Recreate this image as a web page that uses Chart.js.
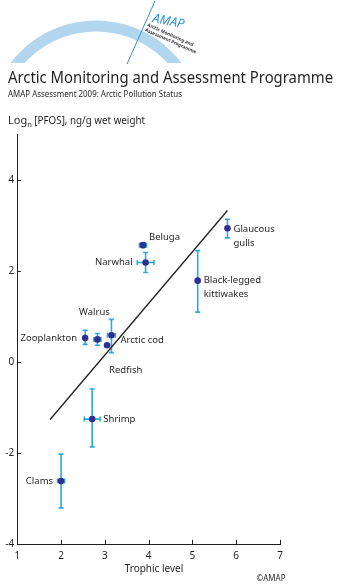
<!DOCTYPE html>
<html>
<head>
<meta charset="utf-8">
<script src="https://cdn.jsdelivr.net/npm/chart.js@4"></script>
<style>
  body { margin: 0; background: #fff; }
  #wrap { width: 343px; height: 584px; }
</style>
</head>
<body>
<div id="wrap"><canvas id="pfosChart" width="343" height="584"></canvas></div>
<script>
// data
var species = ['Clams', 'Shrimp', 'Zooplankton', 'Walrus', 'Redfish', 'Arctic cod', 'Beluga', 'Narwhal', 'Black-legged kittiwakes', 'Glaucous gulls'];
var trophic = [2.0, 2.71, 2.55, 2.83, 3.05, 3.15, 3.87, 3.93, 5.12, 5.8];
var pfos = [-2.61, -1.25, 0.53, 0.5, 0.37, 0.59, 2.57, 2.19, 1.79, 2.94];
var pfosLow = [-3.2, -1.86, 0.39, 0.37, null, 0.21, 2.52, 1.97, 1.1, 2.73];
var pfosHigh = [-2.02, -0.59, 0.70, 0.63, null, 0.94, 2.62, 2.41, 2.45, 3.14];
var trophicErr = [0.08, 0.18, null, 0.08, null, 0.09, 0.08, 0.19, null, null];
var fitX = [1.75, 5.8];
var fitY = [-1.26, 3.33];
var xTicks = [1, 2, 3, 4, 5, 6, 7];
var yTicks = [-4, -2, 0, 2, 4];

var navy = '#2e3192';
var cyan = '#29abe2';
var ink = '#231f20';
var font = '"Noto Sans", sans-serif';

// label placement (px offset from the point)
var labelPos = [
	{dx: -8, dy: 0, align: 'right'},
	{dx: 11, dy: 0, align: 'left'},
	{dx: -8, dy: 0, align: 'right'},
	{dx: -3, dy: -27, align: 'center'},
	{dx: 2, dy: 25, align: 'left'},
	{dx: 9, dy: 5, align: 'left'},
	{dx: 6, dy: -8, align: 'left'},
	{dx: -13, dy: 0, align: 'right'},
	{dx: 6, dy: 0, align: 'left', lines: ['Black-legged', 'kittiwakes']},
	{dx: 6, dy: 1, align: 'left', lines: ['Glaucous', 'gulls']}
];

var points = trophic.map(function(t, i){ return {x: t, y: pfos[i]}; });
var fitLine = fitX.map(function(t, i){ return {x: t, y: fitY[i]}; });

var errorBars = {
	id: 'errorBars',
	beforeDatasetsDraw: function(chart){
		var ctx = chart.ctx;
		var xs = chart.scales.x, ys = chart.scales.y;
		ctx.save();
		ctx.strokeStyle = cyan;
		ctx.lineWidth = 1.6;
		for (var i = 0; i < trophic.length; i++) {
			var px = xs.getPixelForValue(trophic[i]);
			var py = ys.getPixelForValue(pfos[i]);
			ctx.beginPath();
			if (pfosLow[i] != null) {
				var top = ys.getPixelForValue(pfosHigh[i]);
				var bot = ys.getPixelForValue(pfosLow[i]);
				ctx.moveTo(px, top); ctx.lineTo(px, bot);
				ctx.moveTo(px - 2.5, top); ctx.lineTo(px + 2.5, top);
				ctx.moveTo(px - 2.5, bot); ctx.lineTo(px + 2.5, bot);
			}
			if (trophicErr[i] != null) {
				var l = xs.getPixelForValue(trophic[i] - trophicErr[i]);
				var r = xs.getPixelForValue(trophic[i] + trophicErr[i]);
				ctx.moveTo(l, py); ctx.lineTo(r, py);
				ctx.moveTo(l, py - 2.5); ctx.lineTo(l, py + 2.5);
				ctx.moveTo(r, py - 2.5); ctx.lineTo(r, py + 2.5);
			}
			ctx.stroke();
		}
		ctx.restore();
	}
};

var decorations = {
	id: 'decorations',
	afterDraw: function(chart){
		var ctx = chart.ctx;
		var xs = chart.scales.x, ys = chart.scales.y;
		var area = chart.chartArea;
		ctx.save();

		// tick marks (inside the plot)
		ctx.strokeStyle = ink;
		ctx.lineWidth = 1;
		ctx.beginPath();
		yTicks.forEach(function(v){
			var y = Math.round(ys.getPixelForValue(v)) + 0.5;
			ctx.moveTo(area.left, y); ctx.lineTo(area.left + 3.5, y);
		});
		xTicks.forEach(function(v){
			var x = Math.round(xs.getPixelForValue(v)) + 0.5;
			ctx.moveTo(x, area.bottom); ctx.lineTo(x, area.bottom - 4.5);
		});
		ctx.stroke();

		// point labels
		ctx.fillStyle = ink;
		ctx.font = '9.5px ' + font;
		ctx.textBaseline = 'middle';
		for (var i = 0; i < species.length; i++) {
			var p = labelPos[i];
			var px = xs.getPixelForValue(trophic[i]) + p.dx;
			var py = ys.getPixelForValue(pfos[i]) + p.dy;
			ctx.textAlign = p.align;
			var lines = p.lines || [species[i]];
			lines.forEach(function(s, k){ ctx.fillText(s, px, py + k * 13.5); });
		}

		// logo arc
		ctx.save();
		ctx.beginPath();
		ctx.rect(0, 0, 343, 63);
		ctx.clip();
		ctx.strokeStyle = '#b3d6ef';
		ctx.lineWidth = 11;
		ctx.beginPath();
		ctx.arc(96, 128, 102, Math.PI, 2 * Math.PI);
		ctx.stroke();
		ctx.restore();

		ctx.strokeStyle = '#2f8fd8';
		ctx.lineWidth = 1;
		ctx.beginPath();
		ctx.moveTo(155, 1); ctx.lineTo(127, 64);
		ctx.stroke();

		ctx.save();
		ctx.translate(152, 22);
		ctx.rotate(0.2);
		ctx.fillStyle = '#2f8fd8';
		ctx.font = 'italic 13px ' + font;
		ctx.textAlign = 'left';
		ctx.textBaseline = 'alphabetic';
		ctx.fillText('AMAP', 0, 0, 32);
		ctx.restore();

		ctx.save();
		ctx.translate(147, 26);
		ctx.rotate(0.42);
		ctx.fillStyle = '#333';
		ctx.font = 'bold 4.6px ' + font;
		ctx.textAlign = 'left';
		ctx.textBaseline = 'alphabetic';
		ctx.fillText('Arctic Monitoring and', 0, 0);
		ctx.fillText('Assessment Programme', 0, 5.5);
		ctx.restore();

		// headings
		ctx.fillStyle = ink;
		ctx.textAlign = 'left';
		ctx.textBaseline = 'alphabetic';
		ctx.font = '16.5px ' + font;
		ctx.fillText('Arctic Monitoring and Assessment Programme', 8, 82.5, 325);
		ctx.font = '8.5px ' + font;
		ctx.fillText('AMAP Assessment 2009: Arctic Pollution Status', 8, 97, 174);

		ctx.font = '11px ' + font;
		ctx.fillText('Log', 8, 123.5);
		var w = ctx.measureText('Log').width;
		ctx.font = '7.5px ' + font;
		ctx.fillText('n', 8 + w, 126.5);
		var w2 = ctx.measureText('n').width;
		ctx.font = '11px ' + font;
		ctx.fillText(' [PFOS], ng/g wet weight', 8 + w + w2, 123.5, 145 - (8 + w + w2));

		ctx.textAlign = 'center';
		ctx.font = '10px ' + font;
		ctx.fillText('Trophic level', 154, 571.5);
		ctx.font = '8px ' + font;
		ctx.fillText('\u00a9AMAP', 271, 580.5);

		ctx.restore();
	}
};

var chart = new Chart(document.getElementById('pfosChart'), {
	type: 'scatter',
	data: {
		datasets: [
			{
				label: 'PFOS',
				data: points,
				backgroundColor: navy,
				borderWidth: 0,
				pointRadius: 3.3,
				order: 1
			},
			{
				type: 'line',
				label: 'Regression',
				data: fitLine,
				borderColor: ink,
				borderWidth: 1.3,
				pointRadius: 0,
				fill: false,
				order: 2
			}
		]
	},
	options: {
		responsive: false,
		animation: false,
		devicePixelRatio: 1,
		layout: { padding: { left: 0, top: 134.5, right: 63, bottom: 0 } },
		plugins: { legend: { display: false }, tooltip: { enabled: false } },
		scales: {
			x: {
				type: 'linear',
				min: 1, max: 7,
				afterFit: function(s){ s.height = 39.7; },
				afterBuildTicks: function(s){ s.ticks = xTicks.map(function(v){ return {value: v}; }); },
				ticks: { padding: 6, color: ink, font: { family: font, size: 10 } },
				grid: { drawOnChartArea: false, drawTicks: false },
				border: { color: ink, width: 1 }
			},
			y: {
				type: 'linear',
				min: -4, max: 5,
				afterFit: function(s){ s.width = 17.3; },
				afterBuildTicks: function(s){ s.ticks = yTicks.map(function(v){ return {value: v}; }); },
				ticks: { padding: 3, color: ink, font: { family: font, size: 10 } },
				grid: { drawOnChartArea: false, drawTicks: false },
				border: { color: ink, width: 1 }
			}
		}
	},
	plugins: [errorBars, decorations]
});
</script>
</body>
</html>
